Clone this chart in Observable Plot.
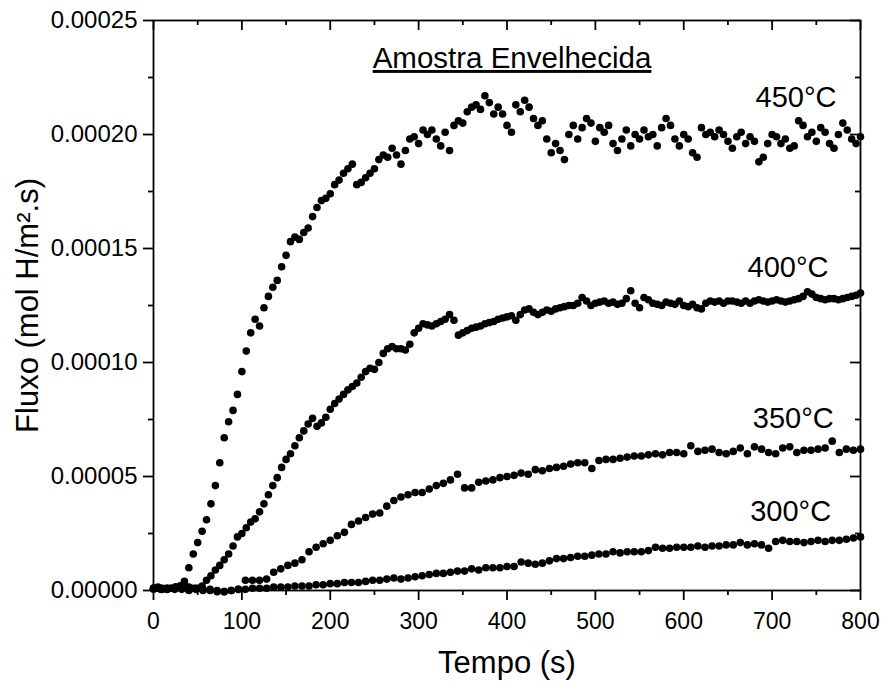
<!DOCTYPE html>
<html>
<head>
<meta charset="utf-8">
<script src="https://cdn.jsdelivr.net/npm/d3@7"></script>
<script src="https://cdn.jsdelivr.net/npm/@observablehq/plot@0.6"></script>
<style>
  html, body { margin: 0; padding: 0; background: #fff; }
  #chart { width: 885px; height: 687px; }
</style>
</head>
<body>
<div id="chart"></div>
<script>
// ---- data (flux values in units of 1e-5 mol H/m².s) ----
const unit = 1e-5;

// sampling times (s)
const t5 = [0,5,10,15,20,25,30,35,40,45,50,55,60,65,70,75,80,85,90,95,100,105,110,115,120,125,130,135,140,145,150,155,160,165,170,175,180,185,190,195,200,205,210,215,220,225,230,235,240,245,250,255,260,265,270,275,280,285,290,295,300,305,310,315,320,325,330,335,340,345,350,355,360,365,370,375,380,385,390,395,400,405,410,415,420,425,430,435,440,445,450,455,460,465,470,475,480,485,490,495,500,505,510,515,520,525,530,535,540,545,550,555,560,565,570,575,580,585,590,595,600,605,610,615,620,625,630,635,640,645,650,655,660,665,670,675,680,685,690,695,700,705,710,715,720,725,730,735,740,745,750,755,760,765,770,775,780,785,790,795,800];
const t8 = [0,8,16,24,32,40,48,56,64,72,80,88,96,104,112,120,128,136,144,152,160,168,176,184,192,200,208,216,224,232,240,248,256,264,272,280,288,296,304,312,320,328,336,344,352,360,368,376,384,392,400,408,416,424,432,440,448,456,464,472,480,488,496,504,512,520,528,536,544,552,560,568,576,584,592,600,608,616,624,632,640,648,656,664,672,680,688,696,704,712,720,728,736,744,752,760,768,776,784,792,800];

const v450 = [0.1,0.15,0.1,0.05,0.1,0.15,0.2,0.4,1.0,1.6,2.1,2.6,3.1,3.8,4.6,5.6,6.7,7.4,7.9,8.6,9.6,10.5,11.3,11.9,11.6,12.4,12.9,13.3,13.6,14.2,14.7,15.3,15.5,15.4,15.7,15.9,16.4,16.8,17.1,17.2,17.4,17.8,18.0,18.3,18.5,18.7,17.8,17.9,18.1,18.3,18.5,18.9,19.1,19.0,19.4,19.1,18.7,19.3,19.8,19.9,19.6,20.2,20.0,20.2,19.8,19.5,20.1,19.3,20.4,20.6,20.5,21.0,21.2,21.3,21.1,21.7,21.4,20.9,21.2,20.9,20.4,20.1,21.3,21.0,21.5,21.2,20.7,20.4,20.6,19.8,19.2,19.6,19.3,18.9,20.0,20.4,19.8,20.3,20.7,20.5,19.7,20.3,20.1,20.4,19.6,19.3,19.8,20.2,19.5,20.0,19.8,20.2,19.9,20.0,19.5,20.3,20.7,20.4,19.8,19.5,20.0,19.8,19.2,19.0,20.3,20.0,20.1,19.9,20.2,20.0,19.7,19.4,19.9,20.1,19.6,19.9,19.7,18.8,19.0,19.6,20.0,19.9,19.6,19.8,19.4,19.5,20.6,20.4,19.9,20.1,19.7,20.3,20.1,19.6,19.4,20.0,20.5,20.2,19.8,19.6,19.9];

const v400 = [0.1,0.1,0.05,0.1,0.1,0.15,0.2,0.2,0.15,0.1,0.1,0.2,0.45,0.65,0.9,1.1,1.35,1.6,1.95,2.35,2.5,2.75,3.0,3.15,3.45,3.8,4.2,4.6,4.95,5.4,5.75,6.0,6.35,6.7,7.0,7.3,7.55,7.2,7.35,7.6,7.95,8.2,8.4,8.6,8.8,8.95,9.1,9.35,9.6,9.75,9.7,10.0,10.4,10.6,10.7,10.6,10.6,10.55,10.8,11.3,11.5,11.7,11.65,11.6,11.7,11.8,11.9,12.1,11.85,11.2,11.3,11.4,11.5,11.55,11.6,11.7,11.75,11.8,11.9,11.95,12.0,12.05,11.85,12.1,12.3,12.35,12.2,12.1,12.2,12.3,12.25,12.35,12.4,12.45,12.5,12.5,12.6,12.85,12.7,12.5,12.6,12.65,12.7,12.6,12.65,12.55,12.6,12.8,13.15,12.6,12.4,12.85,12.75,12.6,12.55,12.5,12.65,12.6,12.55,12.7,12.5,12.45,12.55,12.4,12.35,12.6,12.7,12.65,12.7,12.6,12.7,12.7,12.65,12.6,12.7,12.6,12.7,12.75,12.7,12.65,12.7,12.75,12.7,12.65,12.7,12.75,12.8,12.9,13.1,13.0,12.85,12.8,12.75,12.8,12.8,12.75,12.8,12.85,12.9,12.95,13.05];

const v350 = [0.05,0.1,0.05,0.1,0.05,0.0,0.05,0.0,0.05,0.0,-0.05,0.0,0.05,0.45,0.45,0.45,0.5,0.8,0.95,1.1,1.2,1.35,1.7,1.9,2.05,2.2,2.4,2.55,2.9,3.05,3.2,3.35,3.4,3.7,3.95,4.1,4.2,4.3,4.3,4.45,4.6,4.7,4.85,5.1,4.5,4.5,4.75,4.8,4.85,4.95,5.0,5.05,5.15,5.1,5.3,5.25,5.35,5.4,5.45,5.55,5.6,5.6,5.35,5.7,5.75,5.75,5.8,5.85,5.9,5.9,5.95,6.0,5.95,6.05,6.05,6.0,6.35,6.1,6.15,6.2,6.05,6.0,6.1,6.25,6.0,6.3,6.2,6.05,6.0,6.25,6.3,6.05,6.15,6.15,6.2,6.25,6.55,6.05,6.2,6.15,6.2];

const v300 = [0.1,0.05,0.1,0.05,0.1,0.05,0.1,0.05,0.0,-0.05,-0.05,0.0,0.05,0.05,0.1,0.1,0.1,0.15,0.15,0.15,0.2,0.2,0.2,0.25,0.25,0.3,0.3,0.35,0.35,0.35,0.4,0.45,0.45,0.5,0.55,0.5,0.55,0.6,0.65,0.7,0.75,0.75,0.8,0.85,0.85,0.95,0.9,1.0,1.0,1.0,1.05,1.05,1.25,1.2,1.15,1.2,1.3,1.4,1.4,1.45,1.5,1.5,1.55,1.6,1.6,1.7,1.65,1.7,1.7,1.7,1.75,1.9,1.85,1.85,1.9,1.9,1.9,1.95,1.9,1.95,1.95,2.0,2.0,2.1,2.0,2.05,2.0,1.85,2.15,2.2,2.15,2.15,2.1,2.15,2.2,2.15,2.2,2.2,2.25,2.3,2.35];

// series names (temperatures) and where their labels sit (data coords)
const seriesNames = ["450°C", "400°C", "350°C", "300°C"];
const labelTime = [727, 718, 724, 721];
const labelFlux = [21.6, 14.17, 7.54, 3.46];

// axis ticks
const xMajor = [0,100,200,300,400,500,600,700,800];
const xMinor = [50,150,250,350,450,550,650,750];
const yMajor = [0,0.00005,0.0001,0.00015,0.0002,0.00025];
const yMinor = [0.000025,0.000075,0.000125,0.000175,0.000225];

const titleText = "Amostra Envelhecida";
const xLabel = "Tempo (s)";
const yLabel = "Fluxo (mol H/m².s)";

// ---- build table ----
const seriesData = [
  {name: seriesNames[0], t: t5, v: v450},
  {name: seriesNames[1], t: t5, v: v400},
  {name: seriesNames[2], t: t8, v: v350},
  {name: seriesNames[3], t: t8, v: v300}
];
const points = seriesData.flatMap(s => s.v.map((v, i) => ({t: s.t[i], y: v * unit, s: s.name})));
const labels = seriesNames.map((n, i) => ({name: n, t: labelTime[i], y: labelFlux[i] * unit}));

const FONT = "'Liberation Sans', Arial, sans-serif";
const SW = 1.8;
const W = 885, H = 687, ML = 153, MR = 25, MT = 20, MB = 97;
const FW = W - ML - MR, FH = H - MT - MB;
const MAJ = 10, MIN = 5;

const chart = Plot.plot({
  width: W,
  height: H,
  marginLeft: ML,
  marginRight: MR,
  marginTop: MT,
  marginBottom: MB,
  style: {fontFamily: FONT, color: "black", background: "white", overflow: "visible"},
  x: {domain: [0, 800]},
  y: {domain: [0, 0.00025]},
  marks: [
    Plot.dot(points, {x: "t", y: "y", r: 3.8, fill: "black", stroke: "none"}),
    Plot.frame({stroke: "black", strokeWidth: SW}),
    // bottom ticks (outward)
    Plot.ruleX(xMajor, {insetTop: FH, insetBottom: -MAJ, stroke: "black", strokeWidth: SW}),
    Plot.ruleX(xMinor, {insetTop: FH, insetBottom: -MIN, stroke: "black", strokeWidth: SW}),
    // top ticks (inward)
    Plot.ruleX(xMajor, {insetTop: 0, insetBottom: FH - MAJ, stroke: "black", strokeWidth: SW}),
    Plot.ruleX(xMinor, {insetTop: 0, insetBottom: FH - MIN, stroke: "black", strokeWidth: SW}),
    // left ticks (outward)
    Plot.ruleY(yMajor, {insetLeft: -MAJ, insetRight: FW, stroke: "black", strokeWidth: SW}),
    Plot.ruleY(yMinor, {insetLeft: -MIN, insetRight: FW, stroke: "black", strokeWidth: SW}),
    // right ticks (inward)
    Plot.ruleY(yMajor, {insetLeft: FW - MAJ, insetRight: 0, stroke: "black", strokeWidth: SW}),
    Plot.ruleY(yMinor, {insetLeft: FW - MIN, insetRight: 0, stroke: "black", strokeWidth: SW}),
    // tick labels
    Plot.axisX({ticks: xMajor, tickSize: 0, tickPadding: 22, fontSize: 23, tickFormat: d => String(d), label: null}),
    Plot.axisY({ticks: yMajor, tickSize: 0, tickPadding: 16, fontSize: 24, tickFormat: d => d.toFixed(5), label: null}),
    // axis titles
    Plot.text([xLabel], {frameAnchor: "bottom", dy: 73, lineAnchor: "middle", textAnchor: "middle", fontSize: 31, fill: "black"}),
    Plot.text([yLabel], {frameAnchor: "left", dx: -125, rotate: -90, lineAnchor: "middle", textAnchor: "middle", fontSize: 31, fill: "black"}),
    // chart title
    Plot.text([titleText], {frameAnchor: "top", dx: 5, dy: 38, lineAnchor: "middle", textAnchor: "middle", fontSize: 29.5, fill: "black"}),
    // series labels
    Plot.text(labels, {x: "t", y: "y", text: "name", fontSize: 29, fill: "black"})
  ]
});

d3.select(chart).selectAll("text").filter(function() { return this.textContent === titleText; })
  .style("text-decoration", "underline");
document.getElementById("chart").appendChild(chart);
</script>
</body>
</html>
